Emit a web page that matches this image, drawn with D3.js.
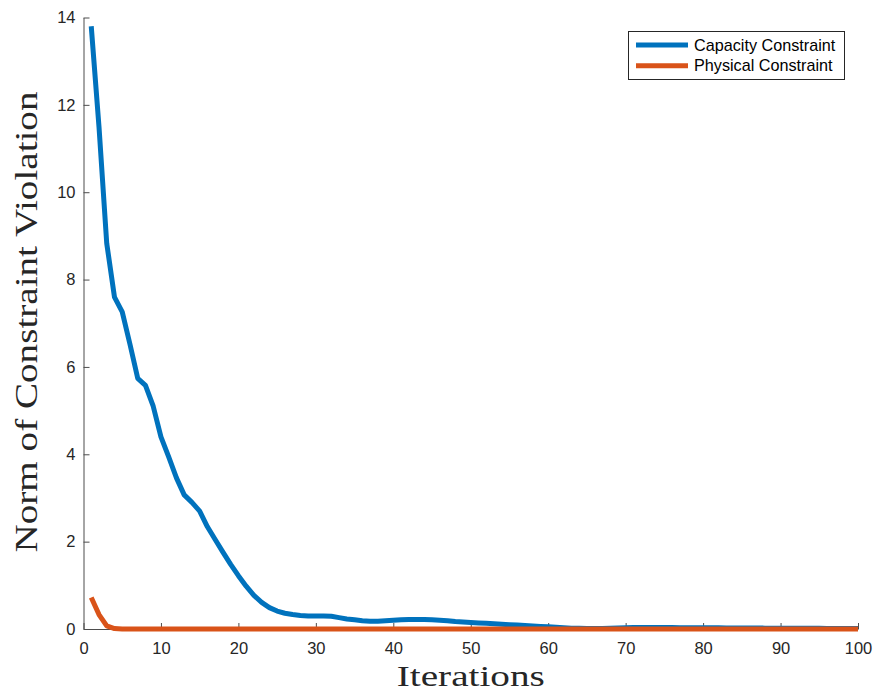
<!DOCTYPE html>
<html>
<head>
<meta charset="utf-8">
<script src="https://cdn.jsdelivr.net/npm/d3@7"></script>
<style>
  body { margin: 0; background: #fff; }
  .tick text { font-family: "Liberation Sans", Arial, sans-serif; font-size: 16.5px; fill: #262626; }
</style>
</head>
<body>
<div id="chart"></div>
<script>
// values
var iterations = d3.range(1, 101);

var capacity = [
  13.8, 11.5, 8.83, 7.6, 7.26, 6.52, 5.74, 5.58, 5.1, 4.4,
  3.94, 3.46, 3.07, 2.9, 2.7, 2.34, 2.05, 1.76, 1.48, 1.22,
  0.98, 0.77, 0.61, 0.49, 0.41, 0.36, 0.33, 0.31, 0.30, 0.30,
  0.30, 0.29, 0.26, 0.23, 0.21, 0.19, 0.18, 0.18, 0.19, 0.20,
  0.21, 0.22, 0.22, 0.22, 0.21, 0.20, 0.19, 0.17, 0.16, 0.15,
  0.14, 0.13, 0.12, 0.11, 0.10, 0.09, 0.08, 0.07, 0.06, 0.05,
  0.04, 0.03, 0.02, 0.015, 0.01, 0.01, 0.012, 0.018, 0.025, 0.03,
  0.032, 0.033, 0.034, 0.034, 0.033, 0.032, 0.031, 0.03, 0.029, 0.028,
  0.027, 0.026, 0.025, 0.024, 0.023, 0.022, 0.021, 0.02, 0.019, 0.018,
  0.017, 0.016, 0.016, 0.015, 0.015, 0.014, 0.014, 0.013, 0.013, 0.012
];

var physical = [0.72, 0.33, 0.07, 0.01].concat(d3.range(96).map(function() { return 0; }));

var seriesNames = ["Capacity Constraint", "Physical Constraint"];
var seriesColors = ["#0072BD", "#D95319"];
var xTicks = d3.range(0, 101, 10);
var yTicks = d3.range(0, 15, 2);

var width = 876, height = 691;
var mLeft = 83.5, mRight = 858, mTop = 17.5, mBottom = 629;

var svg = d3.select("#chart")
  .append("svg")
  .attr("width", width)
  .attr("height", height);

var x = d3.scaleLinear().domain([0, 100]).range([mLeft, mRight]);
var y = d3.scaleLinear().domain([0, 14]).range([mBottom, mTop]);

// axes, ticks pointing inward like matlab
svg.append("g")
  .attr("transform", "translate(0," + mBottom + ")")
  .call(d3.axisBottom(x).tickValues(xTicks).tickSizeInner(-6).tickSizeOuter(0).tickPadding(13));

svg.append("g")
  .attr("transform", "translate(" + mLeft + ",0)")
  .call(d3.axisLeft(y).tickValues(yTicks).tickSizeInner(-6).tickSizeOuter(0).tickPadding(8));

svg.selectAll(".domain").attr("stroke", "#4d4d4d").attr("stroke-width", 1);
svg.selectAll(".tick line").attr("stroke", "#4d4d4d").attr("stroke-width", 1);

// lines
var line = d3.line()
  .x(function(d) { return x(d[0]); })
  .y(function(d) { return y(d[1]); });

var series = [capacity, physical];
series.forEach(function(vals, i) {
  svg.append("path")
    .datum(iterations.map(function(it, k) { return [it, vals[k]]; }))
    .attr("fill", "none")
    .attr("stroke", seriesColors[i])
    .attr("stroke-width", 5)
    .attr("stroke-linejoin", "round")
    .attr("d", line);
});

// axis labels (latex-ish serif, stretched to the reference width)
svg.append("text")
  .attr("x", (mLeft + mRight) / 2)
  .attr("y", 686)
  .attr("text-anchor", "middle")
  .attr("font-family", "'Liberation Serif', serif")
  .attr("font-size", 30)
  .attr("fill", "#262626")
  .attr("textLength", 148)
  .attr("lengthAdjust", "spacingAndGlyphs")
  .text("Iterations");

svg.append("text")
  .attr("transform", "translate(37," + 322 + ") rotate(-90)")
  .attr("text-anchor", "middle")
  .attr("font-family", "'Liberation Serif', serif")
  .attr("font-size", 32)
  .attr("fill", "#262626")
  .attr("textLength", 461)
  .attr("lengthAdjust", "spacingAndGlyphs")
  .text("Norm of Constraint Violation");

// legend
var legend = svg.append("g");
legend.append("rect")
  .attr("x", 628.5).attr("y", 31.5)
  .attr("width", 216).attr("height", 48)
  .attr("fill", "#fff")
  .attr("stroke", "#262626")
  .attr("stroke-width", 1);

seriesNames.forEach(function(name, i) {
  var ly = 45 + i * 20.7;
  legend.append("line")
    .attr("x1", 636).attr("x2", 688)
    .attr("y1", ly).attr("y2", ly)
    .attr("stroke", seriesColors[i])
    .attr("stroke-width", 5);
  legend.append("text")
    .attr("x", 694)
    .attr("y", ly)
    .attr("dy", "0.35em")
    .attr("font-family", "'Liberation Sans', Arial, sans-serif")
    .attr("font-size", 16.2)
    .attr("fill", "#000")
    .text(name);
});
</script>
</body>
</html>
